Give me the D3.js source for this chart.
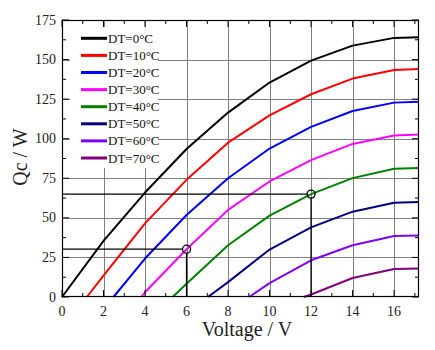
<!DOCTYPE html>
<html>
<head>
<meta charset="utf-8">
<script src="https://cdn.jsdelivr.net/npm/d3@7"></script>
<style>
  body { margin: 0; background: #fff; }
  svg { display: block; font-family: "Liberation Serif", "Times New Roman", serif; }
</style>
</head>
<body>
<svg id="chart" width="435" height="350"></svg>
<script>
// ---- data ----
const seriesNames = ["DT=0\u00b0C", "DT=10\u00b0C", "DT=20\u00b0C", "DT=30\u00b0C", "DT=40\u00b0C", "DT=50\u00b0C", "DT=60\u00b0C", "DT=70\u00b0C"];
const seriesColors = ["#000000", "#ff0000", "#0000ff", "#ff00ff", "#008000", "#000080", "#8000ff", "#800080"];
const dt0  = [[0,0],[2,35.5],[4,66],[6,93.5],[8,116.5],[10,135.5],[12,149.3],[14,158.8],[16,163.7],[17.2,164.1]];
const dt10 = [[1.2,0],[2,13.5],[4,46.5],[6,74],[8,97.5],[10,114.7],[12,128.1],[14,138],[16,143.4],[17.2,144]];
const dt20 = [[2.48,0],[4,24.3],[6,51.8],[8,75],[10,93.8],[12,107.5],[14,117.5],[16,122.8],[17.2,123.4]];
const dt30 = [[3.82,0],[4,3],[6,30.2],[8,55],[10,73],[12,86.5],[14,96.7],[16,102],[17.2,102.7]];
const dt40 = [[5.33,0],[6,8.4],[8,32.7],[10,51.4],[12,65],[14,75.1],[16,81],[17.2,81.5]];
const dt50 = [[7.03,0],[8,9.4],[10,30],[12,44],[14,53.9],[16,59.6],[17.2,60]];
const dt60 = [[9.02,0],[10,8.8],[12,23.2],[14,32.7],[16,38.5],[17.2,38.9]];
const dt70 = [[11.64,0],[12,1.6],[14,12],[16,17.7],[17.2,18]];
const seriesData = [dt0, dt10, dt20, dt30, dt40, dt50, dt60, dt70];
const markedPoints = [[6,30.2],[12,65]];
const xTicks = [0,2,4,6,8,10,12,14,16];
const yTicks = [0,25,50,75,100,125,150,175];
const xMinorTicks = [1,3,5,7,9,11,13,15,17];
const yMinorTicks = [12.5,37.5,62.5,87.5,112.5,137.5,162.5];
const xTitle = "Voltage / V";
const yTitle = "Qc / W";

// ---- layout ----
const L = 62, T = 20, R = 419, B = 297;
const svg = d3.select("#chart");
const x = d3.scaleLinear().domain([0, 17.2]).range([L, R]);
const y = d3.scaleLinear().domain([0, 175]).range([B, T]);

// grid
const grid = svg.append("g").attr("stroke", "#808080").attr("stroke-width", 1);
xTicks.filter(d => d > 0).forEach(d => {
  grid.append("line").attr("x1", Math.round(x(d)) + 0.5).attr("x2", Math.round(x(d)) + 0.5).attr("y1", T).attr("y2", B);
});
yTicks.filter(d => d > 0 && d < 175).forEach(d => {
  grid.append("line").attr("y1", Math.round(y(d)) + 0.5).attr("y2", Math.round(y(d)) + 0.5).attr("x1", L).attr("x2", R);
});

// legend background
svg.append("rect").attr("x", 70).attr("y", 27).attr("width", 88).attr("height", 141).attr("fill", "#fff");

// curves
const line = d3.line().x(d => x(d[0])).y(d => y(d[1]));
seriesData.forEach((s, i) => {
  svg.append("path").datum(s).attr("d", line).attr("fill", "none")
    .attr("stroke", seriesColors[i]).attr("stroke-width", 2).attr("stroke-linejoin", "round");
});

// reference lines & markers
markedPoints.forEach(p => {
  const g = svg.append("g").attr("stroke", "#000").attr("stroke-width", 1.3).attr("fill", "none");
  g.append("line").attr("x1", x(0)).attr("x2", x(p[0]) - 4).attr("y1", y(p[1])).attr("y2", y(p[1]));
  g.append("line").attr("x1", x(p[0])).attr("x2", x(p[0])).attr("y1", y(p[1]) + 4).attr("y2", y(0));
  g.append("circle").attr("cx", x(p[0])).attr("cy", y(p[1])).attr("r", 4);
});

// frame
svg.append("rect").attr("x", L + 0.5).attr("y", T + 0.5).attr("width", R - L - 1).attr("height", B - T - 1)
  .attr("fill", "none").attr("stroke", "#000").attr("stroke-width", 1.2);

// ticks (inward, all sides)
const tk = svg.append("g").attr("stroke", "#000").attr("stroke-width", 1);
xTicks.forEach(d => {
  tk.append("line").attr("x1", x(d)).attr("x2", x(d)).attr("y1", B).attr("y2", B - 7);
  tk.append("line").attr("x1", x(d)).attr("x2", x(d)).attr("y1", T).attr("y2", T + 7);
});
xMinorTicks.forEach(d => {
  tk.append("line").attr("x1", x(d)).attr("x2", x(d)).attr("y1", B).attr("y2", B - 4);
  tk.append("line").attr("x1", x(d)).attr("x2", x(d)).attr("y1", T).attr("y2", T + 4);
});
yTicks.forEach(d => {
  tk.append("line").attr("y1", y(d)).attr("y2", y(d)).attr("x1", L).attr("x2", L + 7);
  tk.append("line").attr("y1", y(d)).attr("y2", y(d)).attr("x1", R).attr("x2", R - 7);
});
yMinorTicks.forEach(d => {
  tk.append("line").attr("y1", y(d)).attr("y2", y(d)).attr("x1", L).attr("x2", L + 4);
  tk.append("line").attr("y1", y(d)).attr("y2", y(d)).attr("x1", R).attr("x2", R - 4);
});

// tick labels
svg.append("g").selectAll("text").data(xTicks).join("text")
  .attr("x", d => x(d)).attr("y", 316).attr("text-anchor", "middle")
  .attr("font-size", 14).attr("fill", "#222").text(d => d);
svg.append("g").selectAll("text").data(yTicks).join("text")
  .attr("x", 56).attr("y", d => y(d) + 4.5).attr("text-anchor", "end")
  .attr("font-size", 14).attr("fill", "#222").text(d => d);

// axis titles
svg.append("text").attr("x", 247).attr("y", 336).attr("text-anchor", "middle")
  .attr("font-size", 20).attr("fill", "#222").text(xTitle);
svg.append("text").attr("transform", "translate(27,157) rotate(-90)").attr("text-anchor", "middle")
  .attr("font-size", 20).attr("fill", "#222").text(yTitle);

// legend
const lg = svg.append("g");
seriesNames.forEach((n, i) => {
  const cy = 38.3 + i * 17.1;
  lg.append("line").attr("x1", 81).attr("x2", 107).attr("y1", cy).attr("y2", cy)
    .attr("stroke", seriesColors[i]).attr("stroke-width", 3);
  lg.append("text").attr("x", 108).attr("y", cy + 4.5).attr("font-size", 13).attr("fill", "#111").text(n);
});
</script>
</body>
</html>
